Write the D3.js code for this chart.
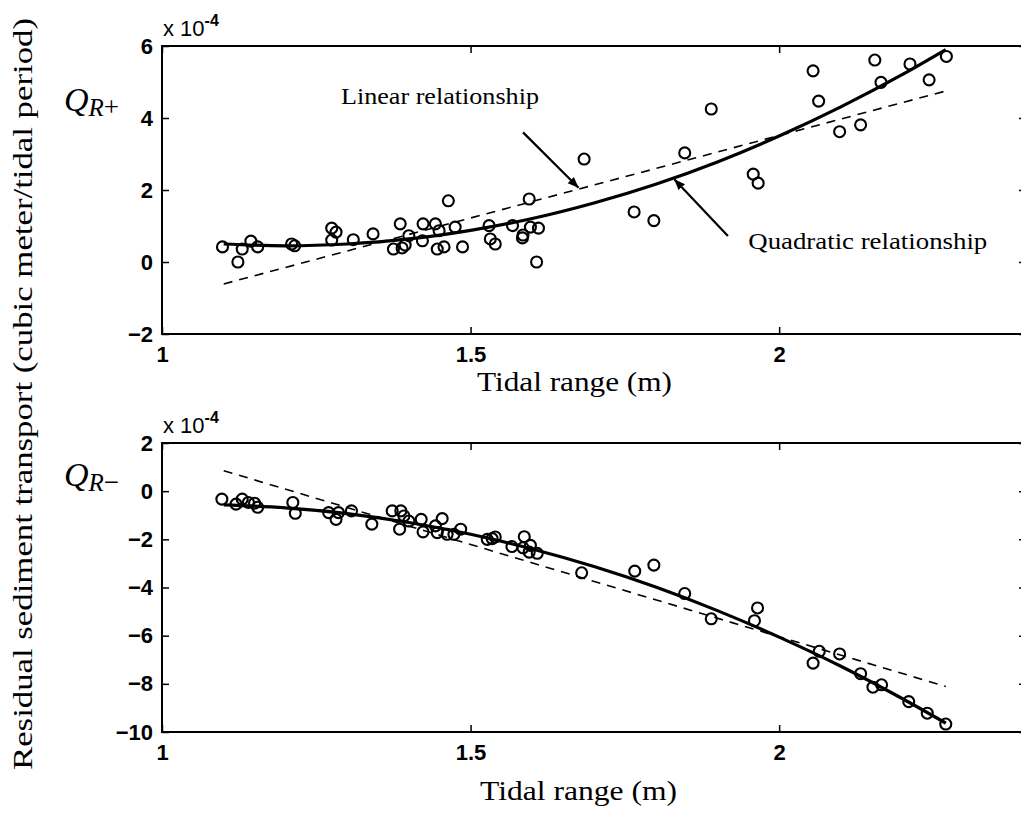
<!DOCTYPE html>
<html>
<head>
<meta charset="utf-8">
<script src="https://cdn.jsdelivr.net/npm/d3@7"></script>
<style>
  body { margin: 0; background: #fff; }
  svg { display: block; }
</style>
</head>
<body>
<div id="chart"></div>
<script>
// tidal range (m) and residual transport (x 1e-4 m^3 / tidal period)
const rangePlus = [1.098, 1.123, 1.13, 1.144, 1.155, 1.21, 1.215, 1.275, 1.282, 1.275, 1.31, 1.342,
  1.375, 1.386, 1.389, 1.394, 1.40, 1.423, 1.422, 1.443, 1.446, 1.457, 1.449, 1.464, 1.475, 1.487,
  1.53, 1.532, 1.54, 1.568, 1.584, 1.585, 1.595, 1.597, 1.61, 1.607, 1.684,
  1.765, 1.797, 1.847, 1.89, 1.958, 1.966, 2.055, 2.064, 2.098, 2.132, 2.155, 2.165, 2.212, 2.243, 2.271];
const qPlus = [0.42, 0.0, 0.36, 0.58, 0.42, 0.5, 0.45, 0.94, 0.83, 0.61, 0.62, 0.78,
  0.36, 1.06, 0.39, 0.47, 0.73, 1.06, 0.59, 1.06, 0.36, 0.42, 0.87, 1.70, 0.97, 0.42,
  1.01, 0.64, 0.5, 1.01, 0.67, 0.75, 1.75, 0.97, 0.94, 0.0, 2.86,
  1.39, 1.15, 3.03, 4.25, 2.44, 2.19, 5.31, 4.47, 3.62, 3.81, 5.61, 4.99, 5.5, 5.06, 5.71];

const rangeMinus = [1.097, 1.12, 1.13, 1.14, 1.15, 1.155, 1.212, 1.216, 1.27, 1.282, 1.286, 1.307,
  1.34, 1.373, 1.387, 1.385, 1.392, 1.40, 1.42, 1.423, 1.443, 1.454, 1.446, 1.462, 1.473, 1.484,
  1.527, 1.535, 1.54, 1.567, 1.587, 1.585, 1.597, 1.595, 1.608, 1.68,
  1.766, 1.797, 1.847, 1.89, 1.965, 1.96, 2.055, 2.065, 2.098, 2.132, 2.152, 2.166, 2.21, 2.24, 2.27];
const qMinus = [-0.33, -0.54, -0.33, -0.47, -0.5, -0.67, -0.47, -0.92, -0.89, -1.17, -0.89, -0.82,
  -1.37, -0.82, -0.82, -1.58, -1.03, -1.24, -1.17, -1.69, -1.44, -1.14, -1.72, -1.79, -1.79, -1.58,
  -2.0, -1.97, -1.9, -2.3, -1.89, -2.35, -2.25, -2.53, -2.58, -3.39,
  -3.32, -3.07, -4.25, -5.3, -4.85, -5.38, -7.14, -6.65, -6.76, -7.58, -8.14, -8.04, -8.74, -9.22, -9.67];

// fitted curves
const fitRange = [1.1, 1.2, 1.3, 1.4, 1.5, 1.6, 1.7, 1.8, 1.9, 2.0, 2.1, 2.2, 2.27];
const quadPlus = [0.50, 0.45, 0.50, 0.64, 0.88, 1.21, 1.64, 2.16, 2.78, 3.50, 4.31, 5.21, 5.90];
const quadMinus = [-0.57, -0.69, -0.93, -1.30, -1.79, -2.40, -3.13, -3.98, -4.96, -6.06, -7.27, -8.62, -9.63];
const linRange = [1.1, 2.27];
const linPlus = [-0.61, 4.75];
const linMinus = [0.85, -8.11];

const xTicks = [1, 1.5, 2];
const yTicksPlus = [-2, 0, 2, 4, 6];
const yTicksMinus = [-10, -8, -6, -4, -2, 0, 2];

const SERIF = '"Liberation Serif", "Times New Roman", serif';
const SANS = '"Liberation Sans", Arial, sans-serif';

const width = 1021, height = 833;
const svg = d3.select('#chart').append('svg')
  .attr('width', width)
  .attr('height', height);

const x = d3.scaleLinear().domain([1, 2.4]).range([162, 1026]);

function serifText(sel, size) {
  return sel.append('text')
    .attr('font-family', SERIF)
    .attr('font-size', size)
    .attr('fill', '#000');
}

function panel(yDomain, yRange, yTicks, xs, ys, quad, lin, labelSign) {
  const y = d3.scaleLinear().domain(yDomain).range(yRange);
  const g = svg.append('g');

  // box
  g.append('rect')
    .attr('x', x.range()[0]).attr('y', yRange[1])
    .attr('width', x.range()[1] - x.range()[0])
    .attr('height', yRange[0] - yRange[1])
    .attr('fill', 'none').attr('stroke', '#000').attr('stroke-width', 2);

  // axes with inward ticks
  const left = g.append('g').attr('transform', `translate(${x.range()[0]},0)`)
    .call(d3.axisLeft(y).tickValues(yTicks).tickSize(-7).tickPadding(9).tickFormat(d3.format('d')));
  const right = g.append('g').attr('transform', `translate(${x.range()[1]},0)`)
    .call(d3.axisRight(y).tickValues(yTicks).tickSize(-7).tickFormat(''));
  const bottom = g.append('g').attr('transform', `translate(0,${yRange[0]})`)
    .call(d3.axisBottom(x).tickValues(xTicks).tickSize(-7).tickPadding(12)
      .tickFormat(d => d === 1.5 ? '1.5' : d3.format('d')(d)));
  const top = g.append('g').attr('transform', `translate(0,${yRange[1]})`)
    .call(d3.axisTop(x).tickValues(xTicks).tickSize(-7).tickFormat(''));
  [left, right, bottom, top].forEach(a => {
    a.attr('font-family', SANS).attr('font-size', 22).attr('font-weight', 'bold');
    a.select('.domain').remove();
    a.selectAll('.tick line').attr('stroke', '#000').attr('stroke-width', 1.5);
    a.selectAll('.tick text').attr('fill', '#000');
  });

  // exponent label
  const ex = g.append('text')
    .attr('x', x.range()[0] + 1).attr('y', yRange[1] - 10)
    .attr('font-family', SANS)
    .attr('font-size', 22).attr('fill', '#000');
  ex.append('tspan').text('x 10');
  ex.append('tspan').attr('dy', -10).attr('font-size', 16).attr('font-weight', 'bold').text('-4');

  // Q label
  const q = serifText(g, 34)
    .attr('x', 64).attr('y', y(yDomain[1]) + (labelSign === '+' ? 65 : 43));
  q.append('tspan').attr('font-style', 'italic').text('Q');
  q.append('tspan').attr('dy', 5).attr('font-style', 'italic').attr('font-size', 25).text('R');
  q.append('tspan').attr('font-size', 27).text(labelSign === '+' ? '+' : '\u2212');

  const line = d3.line().x(d => x(d[0])).y(d => y(d[1]));

  // linear fit (dashed)
  g.append('path')
    .datum(d3.zip(linRange, lin))
    .attr('d', line)
    .attr('fill', 'none').attr('stroke', '#000')
    .attr('stroke-width', 1.6).attr('stroke-dasharray', '9,7');

  // quadratic fit (solid)
  g.append('path')
    .datum(d3.zip(fitRange, quad))
    .attr('d', d3.line().curve(d3.curveMonotoneX).x(d => x(d[0])).y(d => y(d[1])))
    .attr('fill', 'none').attr('stroke', '#000').attr('stroke-width', 3.2);

  // observations
  g.selectAll('circle.obs')
    .data(d3.zip(xs, ys))
    .join('circle')
    .attr('class', 'obs')
    .attr('cx', d => x(d[0]))
    .attr('cy', d => y(d[1]))
    .attr('r', 5.5)
    .attr('fill', 'none').attr('stroke', '#000').attr('stroke-width', 2.1);

  return y;
}

const yTop = panel([-2, 6], [334, 46], yTicksPlus, rangePlus, qPlus, quadPlus, linPlus, '+');
const yBot = panel([-10, 2], [732, 443], yTicksMinus, rangeMinus, qMinus, quadMinus, linMinus, '-');

// annotations on top panel
svg.append('defs').append('marker')
  .attr('id', 'arrow')
  .attr('viewBox', '0 0 10 10')
  .attr('refX', 10).attr('refY', 5)
  .attr('markerWidth', 5).attr('markerHeight', 5)
  .attr('orient', 'auto')
  .append('path').attr('d', 'M0,1 L10,5 L0,9 Z').attr('fill', '#000');

const notes = [
  { text: 'Linear relationship', tx: 1.29, ty: 4.39, len: 198, from: [1.585, 3.6], to: [1.675, 2.06] },
  { text: 'Quadratic relationship', tx: 1.95, ty: 0.36, len: 239, from: [1.917, 0.72], to: [1.83, 2.3] }
];
notes.forEach(n => {
  serifText(svg, 23)
    .attr('x', x(n.tx)).attr('y', yTop(n.ty))
    .attr('textLength', n.len).attr('lengthAdjust', 'spacingAndGlyphs')
    .text(n.text);
  svg.append('line')
    .attr('x1', x(n.from[0])).attr('y1', yTop(n.from[1]))
    .attr('x2', x(n.to[0])).attr('y2', yTop(n.to[1]))
    .attr('stroke', '#000').attr('stroke-width', 2.2)
    .attr('marker-end', 'url(#arrow)');
});

// axis titles
serifText(svg, 27)
  .attr('x', 477).attr('y', 391)
  .attr('textLength', 195).attr('lengthAdjust', 'spacingAndGlyphs')
  .text('Tidal range (m)');
serifText(svg, 27)
  .attr('x', 480).attr('y', 800)
  .attr('textLength', 197).attr('lengthAdjust', 'spacingAndGlyphs')
  .text('Tidal range (m)');
serifText(svg, 28)
  .attr('transform', 'translate(32,770) rotate(-90)')
  .attr('textLength', 752).attr('lengthAdjust', 'spacingAndGlyphs')
  .text('Residual sediment transport (cubic meter/tidal period)');
</script>
</body>
</html>
